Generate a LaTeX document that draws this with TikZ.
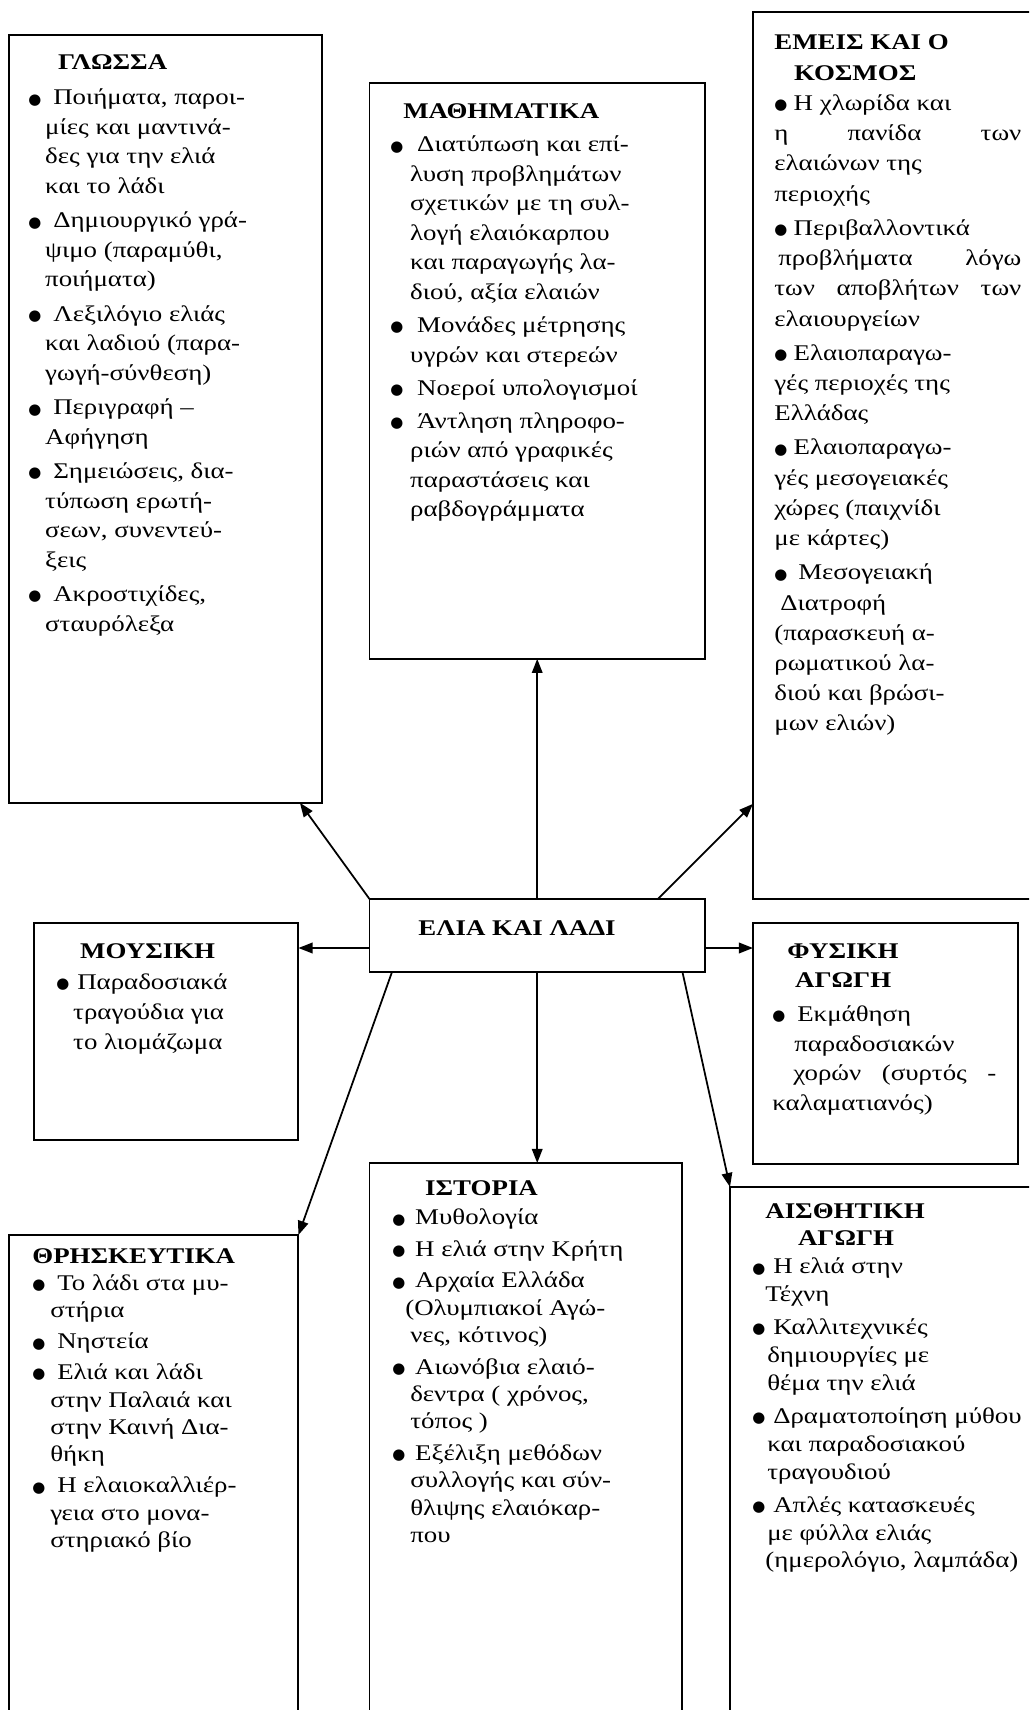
\documentclass[tikz,border=0pt]{standalone}
\usepackage{fontspec}
\setmainfont{Liberation Serif}[FakeStretch=1.2]
\newfontfamily\dotfont{DejaVu Sans}
\usetikzlibrary{arrows.meta,positioning}

\newlength{\bulw}
\newlength{\contw}
\newcommand{\bigdot}{\raisebox{0.4pt}{\dotfont\fontsize{8.5}{8.5}\selectfont ●}}
\newcommand{\bulmark}{\makebox[\bulw][l]{\bigdot}}
\newcommand{\contind}{\hspace*{\contw}}

\begin{document}
\begin{tikzpicture}[x=0.02cm, y=-0.02cm,
  topic/.style={draw, line width=1.1pt, anchor=north west, inner sep=0pt, outer sep=0pt},
  txt/.style={inner sep=0pt, anchor=base west, font=\fontsize{12.75}{15.6}\selectfont},
  link/.style={-{Triangle[length=8pt,width=6pt]}, line width=1pt}]
  \useasboundingbox (0,0) rectangle (1029,1710);
  \clip (0,0) rectangle (1029,1710);

  % boxes
  \node[topic, minimum width=6.26cm, minimum height=15.36cm] (glossa) at (9,35) {};
  \node[topic, minimum width=6.71cm, minimum height=11.52cm] (math) at (369.5,83) {};
  \node[topic, minimum width=5.74cm, minimum height=17.74cm] (kosmos) at (753,12) {};
  \node[topic, minimum width=6.71cm, minimum height=1.46cm] (elia) at (369.5,899) {};
  \node[topic, minimum width=5.29cm, minimum height=4.34cm] (mousiki) at (34,923) {};
  \node[topic, minimum width=5.31cm, minimum height=4.82cm] (fysiki) at (753,923) {};
  \node[topic, minimum width=5.79cm, minimum height=9.8cm] (thrisk) at (9,1235) {};
  \node[topic, minimum width=6.26cm, minimum height=11.24cm] (istoria) at (369.5,1163) {};
  \node[topic, minimum width=6.2cm, minimum height=10.76cm] (aisth) at (730,1187) {};

  % texts
  \node[txt] (elia-txt) at ([shift={(48.5,36)}]elia.north west) {\textbf{ΕΛΙΑ ΚΑΙ ΛΑΔΙ}};

  \node[txt, font=\fontsize{12.75}{16.8}\selectfont] (glossa-txt) at ([shift={(19,35)}]glossa.north west) {%
    \setlength{\bulw}{14.2pt}\setlength{\contw}{9.6pt}%
    \begin{tabular}[t]{@{}l@{}}
    \hspace*{17pt}\textbf{ΓΛΩΣΣΑ}\\[3pt]
    \bulmark Ποιήματα, παροι-\\
    \contind μίες και μαντινά-\\
    \contind δες για την ελιά\\
    \contind και το λάδι\\[2.8pt]
    \bulmark Δημιουργικό γρά-\\
    \contind ψιμο (παραμύθι,\\
    \contind ποιήματα)\\[2.8pt]
    \bulmark Λεξιλόγιο ελιάς\\
    \contind και λαδιού (παρα-\\
    \contind γωγή-σύνθεση)\\[2.8pt]
    \bulmark Περιγραφή –\\
    \contind Αφήγηση\\[2.8pt]
    \bulmark Σημειώσεις, δια-\\
    \contind τύπωση ερωτή-\\
    \contind σεων, συνεντεύ-\\
    \contind ξεις\\[2.8pt]
    \bulmark Ακροστιχίδες,\\
    \contind σταυρόλεξα
    \end{tabular}};

  \node[txt, font=\fontsize{12.75}{16.8}\selectfont] (math-txt) at ([shift={(20.5,35)}]math.north west) {%
    \setlength{\bulw}{15.3pt}\setlength{\contw}{11.3pt}%
    \begin{tabular}[t]{@{}l@{}}
    \hspace*{7.4pt}\textbf{ΜΑΘΗΜΑΤΙΚΑ}\\[2.5pt]
    \bulmark Διατύπωση και επί-\\
    \contind λυση προβλημάτων\\
    \contind σχετικών με τη συλ-\\
    \contind λογή ελαιόκαρπου\\
    \contind και παραγωγής λα-\\
    \contind διού, αξία ελαιών\\[2pt]
    \bulmark Μονάδες μέτρησης\\
    \contind υγρών και στερεών\\[2pt]
    \bulmark Νοεροί υπολογισμοί\\[2pt]
    \bulmark Άντληση πληροφο-\\
    \contind ριών από γραφικές\\
    \contind παραστάσεις και\\
    \contind ραβδογράμματα
    \end{tabular}};

  \node[txt, font=\fontsize{12.75}{17.2}\selectfont] (kosmos-txt) at ([shift={(21,38)}]kosmos.north west) {%
    \setlength{\bulw}{11pt}%
    \begin{tabular}[t]{@{}l@{}}
    \textbf{ΕΜΕΙΣ ΚΑΙ Ο}\\
    \hspace*{11.3pt}\textbf{ΚΟΣΜΟΣ}\\
    \bulmark Η χλωρίδα και\\
    \makebox[140.6pt][s]{η\hfill πανίδα\hfill των}\\
    ελαιώνων της\\
    περιοχής\\[2.3pt]
    \bulmark Περιβαλλοντικά\\
    \hspace*{2.3pt}\makebox[138.3pt][s]{προβλήματα\hfill λόγω}\\
    \makebox[140.6pt][s]{των\hfill αποβλήτων\hfill των}\\
    ελαιουργείων\\[2.3pt]
    \bulmark Ελαιοπαραγω-\\
    γές περιοχές της\\
    Ελλάδας\\[2.3pt]
    \bulmark Ελαιοπαραγω-\\
    γές μεσογειακές\\
    χώρες (παιχνίδι\\
    με κάρτες)\\[2.3pt]
    \makebox[13.6pt][l]{\bigdot}Μεσογειακή\\
    \hspace*{3.4pt}Διατροφή\\
    (παρασκευή α-\\
    ρωματικού λα-\\
    διού και βρώσι-\\
    μων ελιών)
    \end{tabular}};

  \node[txt, font=\fontsize{12.75}{17}\selectfont] (mousiki-txt) at ([shift={(22,35)}]mousiki.north west) {%
    \setlength{\bulw}{11.9pt}\setlength{\contw}{9.6pt}%
    \begin{tabular}[t]{@{}l@{}}
    \hspace*{13.6pt}\textbf{ΜΟΥΣΙΚΗ}\\[1pt]
    \bulmark Παραδοσιακά\\
    \contind τραγούδια για\\
    \contind το λιομάζωμα
    \end{tabular}};

  \node[txt, font=\fontsize{12.75}{17}\selectfont] (fysiki-txt) at ([shift={(19,35)}]fysiki.north west) {%
    \setlength{\bulw}{14.2pt}%
    \begin{tabular}[t]{@{}l@{}}
    \hspace*{8.5pt}\textbf{ΦΥΣΙΚΗ}\\
    \hspace*{13pt}\textbf{ΑΓΩΓΗ}\\[2pt]
    \bulmark Εκμάθηση\\
    \hspace*{12.5pt}παραδοσιακών\\
    \hspace*{11.9pt}\makebox[115.6pt][s]{χορών\hfill(συρτός\hfill-}\\
    καλαματιανός)
    \end{tabular}};

  \node[txt] (thrisk-txt) at ([shift={(23,28)}]thrisk.north west) {%
    \setlength{\bulw}{14.2pt}\setlength{\contw}{10.2pt}%
    \begin{tabular}[t]{@{}l@{}}
    \textbf{ΘΡΗΣΚΕΥΤΙΚΑ}\\
    \bulmark Το λάδι στα μυ-\\
    \contind στήρια\\[2pt]
    \bulmark Νηστεία\\[2pt]
    \bulmark Ελιά και λάδι\\
    \contind στην Παλαιά και\\
    \contind στην Καινή Δια-\\
    \contind θήκη\\[2pt]
    \bulmark Η ελαιοκαλλιέρ-\\
    \contind γεια στο μονα-\\
    \contind στηριακό βίο
    \end{tabular}};

  \node[txt] (istoria-txt) at ([shift={(22.5,32)}]istoria.north west) {%
    \setlength{\bulw}{13pt}\setlength{\contw}{10.2pt}%
    \begin{tabular}[t]{@{}l@{}}
    \hspace*{18.7pt}\textbf{ΙΣΤΟΡΙΑ}\\[1.4pt]
    \bulmark Μυθολογία\\[2.3pt]
    \bulmark Η ελιά στην Κρήτη\\[2.3pt]
    \bulmark Αρχαία Ελλάδα\\
    \hspace*{7.4pt}(Ολυμπιακοί Αγώ-\\
    \contind νες, κότινος)\\[2.3pt]
    \bulmark Αιωνόβια ελαιό-\\
    \contind δεντρα ( χρόνος,\\
    \contind τόπος )\\[2.3pt]
    \bulmark Εξέλιξη μεθόδων\\
    \contind συλλογής και σύν-\\
    \contind θλιψης ελαιόκαρ-\\
    \contind που
    \end{tabular}};

  \node[txt, font=\fontsize{12.75}{15.9}\selectfont] (aisth-txt) at ([shift={(22,31)}]aisth.north west) {%
    \setlength{\bulw}{11.9pt}\setlength{\contw}{8.5pt}%
    \begin{tabular}[t]{@{}l@{}}
    \hspace*{7.4pt}\textbf{ΑΙΣΘΗΤΙΚΗ}\\
    \hspace*{26pt}\textbf{ΑΓΩΓΗ}\\
    \bulmark Η ελιά στην\\
    \hspace*{7.4pt}Τέχνη\\[2.8pt]
    \bulmark Καλλιτεχνικές\\
    \contind δημιουργίες με\\
    \contind θέμα την ελιά\\[2.8pt]
    \bulmark Δραματοποίηση μύθου\\
    \contind και παραδοσιακού\\
    \contind τραγουδιού\\[2.8pt]
    \bulmark Απλές κατασκευές\\
    \contind με φύλλα ελιάς\\
    \hspace*{7.4pt}(ημερολόγιο, λαμπάδα)
    \end{tabular}};

  % arrows
  \coordinate (lmid) at ([yshift=-0.25cm]elia.west);
  \coordinate (rmid) at ([yshift=-0.25cm]elia.east);
  \draw[link] (elia.north west) -- ([xshift=5.82cm]glossa.south west);
  \draw[link] (elia.north) -- (math.south);
  \draw[link] ([xshift=5.77cm]elia.north west) -- ([yshift=1.9cm]kosmos.south west);
  \draw[link] (lmid) -- (lmid -| mousiki.east);
  \draw[link] (rmid) -- (rmid -| fysiki.west);
  \draw[link] ([xshift=0.45cm]elia.south west) -- (thrisk.north east);
  \draw[link] (elia.south) -- (elia.south |- istoria.north);
  \draw[link] ([xshift=-0.45cm]elia.south east) -- (aisth.north west);
\end{tikzpicture}
\end{document}
